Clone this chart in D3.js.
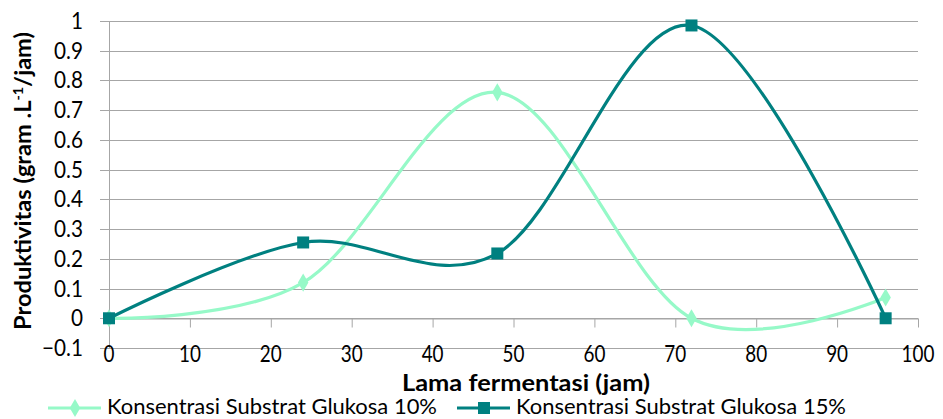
<!DOCTYPE html>
<html>
<head>
<meta charset="utf-8">
<script src="https://cdn.jsdelivr.net/npm/d3@7"></script>
<style>
  body { margin: 0; background: #fff; }
  text { font-family: Lato, "Open Sans", sans-serif; fill: #000; }
</style>
</head>
<body>
<div id="chart"></div>
<script>
const hours = [0, 24, 48, 72, 96];
const glukosa10 = [0, 0.12, 0.76, 0, 0.07];
const glukosa15 = [0, 0.255, 0.218, 0.985, 0];
const xTicks = [0, 10, 20, 30, 40, 50, 60, 70, 80, 90, 100];
const yTicks = [-0.1, 0, 0.1, 0.2, 0.3, 0.4, 0.5, 0.6, 0.7, 0.8, 0.9, 1];
const seriesNames = ["Konsentrasi Substrat Glukosa 10%", "Konsentrasi Substrat Glukosa 15%"];

const width = 943, height = 419;
const plotLeft = 109, plotRight = 918, plotTop = 21, plotBottom = 348;
const mint = "#96f9c8", teal = "#008080", grid = "#a6a6a6";

const svg = d3.select("#chart").append("svg").attr("width", width).attr("height", height);

const x = d3.scaleLinear().domain([0, 100]).range([plotLeft, plotRight]);
const y = d3.scaleLinear().domain([-0.1, 1]).range([plotBottom, plotTop]);

// squeeze text horizontally to mimic a narrow font
function squeeze(sel, k) {
    sel.each(function () {
        const w = this.getComputedTextLength();
        d3.select(this).attr("textLength", w * k).attr("lengthAdjust", "spacingAndGlyphs");
    });
}
function fitTo(sel, w) {
    sel.attr("textLength", w).attr("lengthAdjust", "spacingAndGlyphs");
}

// horizontal gridlines + left ticks
svg.append("g").selectAll("line").data(yTicks).enter().append("line")
    .attr("x1", plotLeft - 9).attr("x2", plotRight)
    .attr("y1", d => Math.round(y(d)) + 0.5).attr("y2", d => Math.round(y(d)) + 0.5)
    .attr("stroke", grid).attr("stroke-width", 1);

// vertical axis line
svg.append("line").attr("x1", plotLeft + 0.5).attr("x2", plotLeft + 0.5)
    .attr("y1", plotTop).attr("y2", plotBottom).attr("stroke", grid);

// x axis at y = 0 with ticks hanging down
const xAxis = svg.append("g").attr("transform", "translate(0," + (Math.round(y(0)) + 0.5) + ")")
    .call(d3.axisBottom(x).tickValues(xTicks).tickSize(9).tickSizeOuter(0).tickFormat(""));
xAxis.select(".domain").attr("stroke", grid);
xAxis.selectAll(".tick line").attr("stroke", grid);

// x tick labels at the bottom
const xl = svg.append("g").selectAll("text").data(xTicks).enter().append("text")
    .attr("x", d => x(d)).attr("y", 362).attr("text-anchor", "middle")
    .attr("font-size", 23).attr("fill", "#404040").text(d => d);
squeeze(xl, 0.82);

// y tick labels
const yl = svg.append("g").selectAll("text").data(yTicks).enter().append("text")
    .attr("x", 83).attr("y", d => y(d) + 8).attr("text-anchor", "end")
    .attr("font-size", 23).attr("fill", "#404040").text(d => d3.format("")(+d.toFixed(1)));
squeeze(yl, 0.9);

// smoothed lines
const line = d3.line().x(d => x(d[0])).y(d => y(d[1])).curve(d3.curveCatmullRom.alpha(0));
const s10 = hours.map((h, i) => [h, glukosa10[i]]);
const s15 = hours.map((h, i) => [h, glukosa15[i]]);

svg.append("path").datum(s10).attr("d", line).attr("fill", "none")
    .attr("stroke", mint).attr("stroke-width", 3.2);
svg.append("path").datum(s15).attr("d", line).attr("fill", "none")
    .attr("stroke", teal).attr("stroke-width", 3.2);

const diamond = d3.symbol().type(d3.symbolDiamond).size(95);
svg.append("g").selectAll("path").data(s10).enter().append("path")
    .attr("d", diamond).attr("transform", d => "translate(" + x(d[0]) + "," + y(d[1]) + ")")
    .attr("fill", mint);
svg.append("g").selectAll("rect").data(s15).enter().append("rect")
    .attr("x", d => x(d[0]) - 6).attr("y", d => y(d[1]) - 6)
    .attr("width", 12).attr("height", 12).attr("fill", teal);

// axis titles
const xt = svg.append("text").attr("x", 526).attr("y", 391).attr("text-anchor", "middle")
    .attr("font-size", 23).attr("font-weight", "bold").text("Lama fermentasi (jam)");
fitTo(xt, 248);

const yt = svg.append("text").attr("transform", "translate(31,181) rotate(-90)")
    .attr("text-anchor", "middle").attr("font-size", 23).attr("font-weight", "bold");
yt.append("tspan").text("Produktivitas (gram .L");
yt.append("tspan").attr("dy", -8).attr("font-size", 14).text("-1");
yt.append("tspan").attr("dy", 8).text("/jam)");
fitTo(yt, 298);

// legend
const legend = [
    {name: seriesNames[0], color: mint, x0: 48, shape: "diamond"},
    {name: seriesNames[1], color: teal, x0: 457, shape: "square"}
];
legend.forEach(l => {
    const g = svg.append("g");
    g.append("line").attr("x1", l.x0).attr("x2", l.x0 + 53).attr("y1", 408).attr("y2", 408)
        .attr("stroke", l.color).attr("stroke-width", 3.2);
    if (l.shape === "diamond") {
        g.append("path").attr("d", diamond).attr("transform", "translate(" + (l.x0 + 27) + ",408)")
            .attr("fill", l.color);
    } else {
        g.append("rect").attr("x", l.x0 + 21).attr("y", 402).attr("width", 12).attr("height", 12)
            .attr("fill", l.color);
    }
    const t = g.append("text").attr("x", l.x0 + 59).attr("y", 414).attr("font-size", 21)
        .attr("fill", "#404040").text(l.name);
    fitTo(t, 330);
});
</script>
</body>
</html>
